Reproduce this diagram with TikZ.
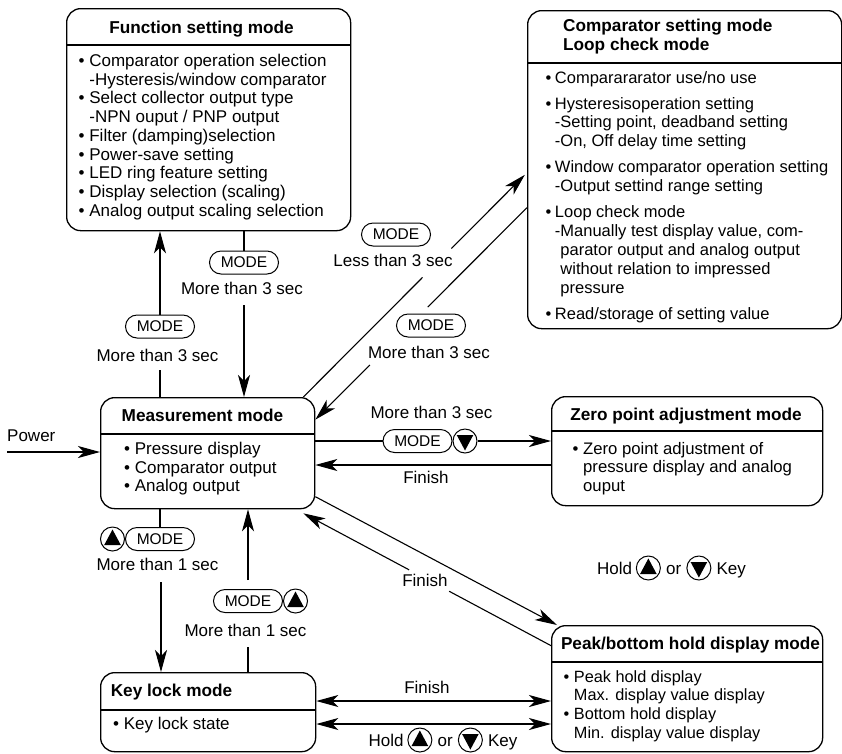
\documentclass[tikz,border=0pt]{standalone}
\usepackage{fontspec}
\setmainfont{Liberation Sans}
\usetikzlibrary{arrows.meta,calc}
\newcommand\ind{\hphantom{•\ }}
\newcommand\indc{\hphantom{•\hspace{3.5pt}}}
\begin{document}
\begin{tikzpicture}[x=1pt,y=-1pt,
  box/.style={draw, line width=1.3pt, rounded corners=14pt, inner sep=0pt, anchor=north west},
  sep/.style={line width=1.2pt},
  ttl/.style={font=\fontsize{17.2}{19}\selectfont\bfseries, inner sep=0pt},
  body/.style={font=\fontsize{17}{18.7}\selectfont, inner sep=0pt, align=left, anchor=north west},
  lbl/.style={font=\fontsize{17}{18.7}\selectfont, inner sep=0pt},
  pill/.style={draw, line width=1pt, rounded corners=11.5pt, minimum width=69pt, minimum height=23pt, inner sep=0pt, font=\fontsize{15.5}{16}\selectfont},
  keyc/.style={draw, circle, line width=1pt, minimum size=24pt, inner sep=0pt},
  keyup/.style={keyc, path picture={\fill ([yshift=9.5pt]path picture bounding box.center) -- ([xshift=8.3pt,yshift=-6pt]path picture bounding box.center) -- ([xshift=-8.3pt,yshift=-6pt]path picture bounding box.center) -- cycle;}},
  keydn/.style={keyc, path picture={\fill ([yshift=-9.5pt]path picture bounding box.center) -- ([xshift=8.3pt,yshift=6pt]path picture bounding box.center) -- ([xshift=-8.3pt,yshift=6pt]path picture bounding box.center) -- cycle;}},
  conn/.style={line width=1.1pt},
  arr/.style={conn, -{Stealth[length=22pt,width=12pt,inset=6pt]}},
  dbl/.style={conn, {Stealth[length=22pt,width=12pt,inset=6pt]}-{Stealth[length=22pt,width=12pt,inset=6pt]}}
]
\useasboundingbox (0,0) rectangle (842,753);

% ---------- boxes ----------
\node[box, minimum width=284pt, minimum height=222pt] (fn) at (66,8) {};
\node[box, minimum width=314pt, minimum height=318pt] (cmp) at (527,10) {};
\node[box, minimum width=214pt, minimum height=111pt] (meas) at (100,397) {};
\node[box, minimum width=215pt, minimum height=79pt] (key) at (100,672) {};
\node[box, minimum width=271pt, minimum height=109pt] (zero) at (551,396) {};
\node[box, minimum width=271pt, minimum height=126pt] (peak) at (551,625) {};

\draw[sep] ([yshift=-37pt]fn.north west) -- ([yshift=-37pt]fn.north east);
\draw[sep] ([yshift=-53pt]cmp.north west) -- ([yshift=-53pt]cmp.north east);
\draw[sep] ([yshift=-37pt]meas.north west) -- ([yshift=-37pt]meas.north east);
\draw[sep] ([yshift=-38pt]key.north west) -- ([yshift=-38pt]key.north east);
\draw[sep] ([yshift=-35pt]zero.north west) -- ([yshift=-35pt]zero.north east);
\draw[sep] ([yshift=-37pt]peak.north west) -- ([yshift=-37pt]peak.north east);

% ---------- titles ----------
\node[ttl, anchor=base] (fnt) at (201.5,33) {Function setting mode};
\node[ttl, anchor=north west, align=left] (cmpt) at (563,19) {Comparator setting mode\\Loop check mode};
\node[ttl, anchor=base] (meast) at (202.5,421) {Measurement mode};
\node[ttl, anchor=base] (keyt) at (171.5,696) {Key lock mode};
\node[ttl, anchor=base] (zerot) at (686,420) {Zero point adjustment mode};
\node[ttl, anchor=base] (peakt) at (690.5,649) {Peak/bottom hold display mode};

% ---------- bodies ----------
\node[body] (fnb) at (78.5,54) {•\ Comparator operation selection\\
\ind -Hysteresis/window comparator\\
•\ Select collector output type\\
\ind -NPN ouput / PNP output\\
•\ Filter (damping)selection\\
•\ Power-save setting\\
•\ LED ring feature setting\\
•\ Display selection (scaling)\\
•\ Analog output scaling selection};

\node[body, font=\fontsize{16.5}{18.9}\selectfont] (cmpb) at (545.5,71) {•\hspace{3.5pt}Comparararator use/no use\\[7pt]
•\hspace{3.5pt}Hysteresisoperation setting\\
\indc -Setting point, deadband setting\\
\indc -On, Off delay time setting\\[7pt]
•\hspace{3.5pt}Window comparator operation setting\\
\indc -Output settind range setting\\[7pt]
•\hspace{3.5pt}Loop check mode\\
\indc -Manually test display value, com-\\
\indc \hphantom{-}parator output and analog output\\
\indc \hphantom{-}without relation to impressed\\
\indc \hphantom{-}pressure\\[7pt]
•\hspace{3.5pt}Read/storage of setting value};

\node[body] (measb) at (124,442) {•\ Pressure display\\
•\ Comparator output\\
•\ Analog output};

\node[body] (keyb) at (113,717) {•\ Key lock state};

\node[body, font=\fontsize{16.7}{18.5}\selectfont] (zerob) at (572.5,442) {•\ Zero point adjustment of\\
\ind pressure display and analog\\
\ind ouput};

\node[body, font=\fontsize{16.3}{18.7}\selectfont] (peakb) at (563.5,670) {•\ Peak hold display\\
\ind Max. display value display\\
•\ Bottom hold display\\
\ind Min. display value display};

% ---------- labels ----------
\node[lbl, anchor=base west] (pwl) at (7,441) {Power};
\node[pill] (p1) at (160,326.5) {MODE};
\node[lbl] (t1) at (157.5,355) {More than 3 sec};
\node[pill] (p2) at (244,262.5) {MODE};
\node[lbl] (t2) at (242,288) {More than 3 sec};
\node[pill] (p3) at (396,234.5) {MODE};
\node[lbl] (t3) at (393,260) {Less than 3 sec};
\node[pill] (p4) at (431,325.5) {MODE};
\node[lbl] (t4) at (429,352) {More than 3 sec};
\node[lbl] (t5) at (431.5,412) {More than 3 sec};
\node[pill] (p5) at (417.5,441) {MODE};
\node[keydn, anchor=west] (c5) at (p5.east) {};
\node[lbl] (f5) at (426,477) {Finish};
\node[lbl] (f8) at (425,580) {Finish};
\node[pill] (p6) at (160,539) {MODE};
\node[keyup, anchor=east] (c6) at (p6.west) {};
\node[lbl] (t6) at (157.5,564) {More than 1 sec};
\node[pill] (p7) at (248,601) {MODE};
\node[keyup, anchor=west] (c7) at (p7.east) {};
\node[lbl] (t7) at (245.5,630) {More than 1 sec};
\node[lbl] (f9) at (427,687) {Finish};

% Hold (up) or (down) Key -- middle
\node[lbl, anchor=base west] (h8) at (597,574) {Hold};
\node[keyup, anchor=west] (c8a) at ([xshift=3.5pt,yshift=6pt]h8.base east) {};
\node[lbl, anchor=base west] (o8) at ([xshift=5pt,yshift=-6pt]c8a.east) {or};
\node[keydn, anchor=west] (c8b) at ([xshift=5pt,yshift=6pt]o8.base east) {};
\node[lbl, anchor=base west] (k8) at ([xshift=5pt,yshift=-6pt]c8b.east) {Key};

% Hold (up) or (down) Key -- bottom
\node[lbl, anchor=base west] (h9) at (368.5,746) {Hold};
\node[keyup, anchor=west] (c9a) at ([xshift=3.5pt,yshift=6pt]h9.base east) {};
\node[lbl, anchor=base west] (o9) at ([xshift=5pt,yshift=-6pt]c9a.east) {or};
\node[keydn, anchor=west] (c9b) at ([xshift=5pt,yshift=6pt]o9.base east) {};
\node[lbl, anchor=base west] (k9) at ([xshift=5pt,yshift=-6pt]c9b.east) {Key};

% ---------- connectors ----------
% power
\coordinate (pw) at (7,452);
\draw[arr] (pw) -- (pw -| meas.west);

% measurement -> function setting
\coordinate (g1) at (160,370);
\draw[conn] (meas.north -| g1) -- (g1);
\draw[arr] (p1.north) -- (fn.south -| p1.north);

% function setting -> measurement
\draw[conn] (fn.south -| p2) -- (p2.north);
\coordinate (g2) at (244,305);
\draw[arr] (g2) -- (meas.north -| g2);

% measurement -> comparator
\coordinate (d1s) at ([xshift=-12pt]meas.north east);
\coordinate (d1e) at ([yshift=-3pt]cmp.west);
\coordinate (d1a) at ($(d1s)!0.533!(d1e)$);
\coordinate (d1b) at ($(d1s)!0.662!(d1e)$);
\draw[conn] (d1s) -- (d1a);
\draw[arr, shorten >=3pt] (d1b) -- (d1e);

% comparator -> measurement
\coordinate (d2s) at ([yshift=-38pt]cmp.west);
\coordinate (d2e) at ([yshift=33.5pt]meas.east);
\coordinate (d2a) at ($(d2s)!0.469!(d2e)$);
\coordinate (d2b) at ($(d2s)!0.742!(d2e)$);
\draw[conn] (d2s) -- (d2a);
\draw[arr] (d2b) -- (d2e);

% measurement <-> zero point
\coordinate (ym) at (0,441);
\draw[conn] (meas.east |- ym) -- (p5.west);
\draw[arr] (c5.east) -- (zero.west |- ym);
\coordinate (yf) at (0,465);
\draw[arr] (zero.west |- yf) -- (meas.east |- yf);

% measurement <-> peak
\coordinate (d3s) at ([yshift=-43.5pt]meas.east);
\coordinate (d3e) at ([xshift=6pt]peak.north west);
\draw[arr] (d3s) -- (d3e);
\coordinate (d4s) at ([yshift=43pt]peak.west);
\coordinate (d4e) at ([xshift=-12pt,yshift=-4pt]meas.south east);
\coordinate (d4a) at ($(d4s)!0.411!(d4e)$);
\coordinate (d4b) at ($(d4s)!0.573!(d4e)$);
\draw[conn] (d4s) -- (d4a);
\draw[arr] (d4b) -- (d4e);

% measurement <-> key lock
\draw[conn] (meas.south -| p6) -- (p6.north);
\coordinate (g6) at (161,582);
\draw[arr] (g6) -- (key.north -| g6);
\coordinate (g7a) at (248,647);
\draw[conn] (key.north -| g7a) -- (g7a);
\coordinate (g7b) at (248,580);
\draw[arr] (g7b) -- (meas.south -| g7b);

% key lock <-> peak
\coordinate (yk1) at (0,701);
\draw[dbl] (key.east |- yk1) -- (peak.west |- yk1);
\coordinate (yk2) at (0,724);
\draw[dbl] (key.east |- yk2) -- (peak.west |- yk2);
\end{tikzpicture}
\end{document}
